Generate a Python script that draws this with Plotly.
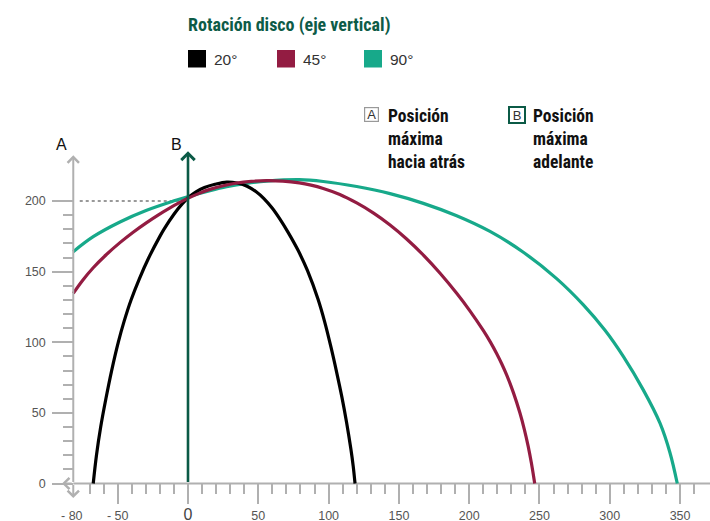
import plotly.graph_objects as go

W, H = 710, 521

# ---- data ----
series_names = ["20°", "45°", "90°"]
series_colors = ["#000000", "#931c42", "#17a98a"]

x_20 = [-67.4, -65.1, -62.1, -58.4, -54.3, -49.6, -45.4, -40.5, -34.6, -28.0, -19.9, -16.8,
        -10.0, -4.0, 0.5, 5.7, 11.7, 19.2, 27.5, 35.0, 42.0, 48.5, 54.0, 60.0, 65.4, 71.0,
        78.2, 85.0, 92.5, 97.3, 101.7, 105.7, 109.5, 112.8, 115.9, 117.5, 118.8]
y_20 = [0, 20, 40, 60, 80, 100, 115, 130, 145, 159.7, 175.2, 180.5,
        190.7, 198.2, 202.7, 206.6, 209.6, 211.9, 213.5, 212.8, 210.5, 206.6, 201.8, 194.9, 187.2, 178.2,
        165.3, 150.7, 130.4, 114.1, 96.5, 78.9, 61.0, 43.2, 24.0, 12.3, 0]

x_45 = [-81.6, -75.0, -67.4, -58.0, -48.4, -39.0, -29.4, -21.0, -12.8, -6.5, -0.2, 7.5,
        15.6, 25.0, 34.6, 45.0, 56.0, 67.5, 79.2, 87.5, 96.2, 108.0, 120.0, 132.0, 143.7,
        155.5, 167.4, 179.3, 191.1, 200.5, 210.0, 215.0, 219.6, 223.2, 226.7, 231.5, 236.1,
        239.2, 242.0, 244.3, 246.6]
y_45 = [134.7, 143.8, 152.8, 162.2, 170.6, 178.0, 184.8, 190.3, 195.2, 198.7, 201.9, 205.3,
        208.3, 210.9, 212.8, 214.0, 214.55, 214.2, 212.9, 211.3, 208.95, 204.7, 198.7, 191.5, 183.1,
        173.2, 161.8, 148.9, 134.7, 122.3, 108.4, 100.3, 91.9, 84.6, 76.7, 64.2, 49.9,
        38.4, 26.1, 14.1, 0]

x_90 = [-81.6, -67.4, -48.4, -29.4, -10.5, -0.2, 15.6, 27.5, 41.5, 56.0, 79.2, 96.2,
        120.0, 143.7, 167.4, 191.1, 214.8, 238.5, 262.2, 281.2, 296.6, 309.6, 323.8, 335.7,
        342.8, 348.0]
y_90 = [164.2, 174.8, 185.2, 193.5, 200.0, 203.1, 207.4, 210.2, 212.6, 214.2, 215.2, 213.9,
        210.3, 205.3, 198.4, 189.6, 178.5, 163.8, 145.1, 126.5, 108.5, 90.0, 66.3, 42.7,
        21.8, 0]

x_major = [-50, 0, 50, 100, 150, 200, 250, 300, 350]
x_major_text = ["- 50", "<span style='font-size:16px;color:#444'>0</span>", "50", "100",
                "150", "200", "250", "300", "350"]
x_minor = [v for v in range(-70, 361, 10) if v % 50 != 0]
y_major = [0, 50, 100, 150, 200]
y_major_text = ["0", "50", "100", "150", "200"]
y_minor = [v for v in range(10, 200, 10) if v % 50 != 0]

title_text = "Rotación disco (eje vertical)"
note_a = "Posición<br>máxima<br>hacia atrás"
note_b = "Posición<br>máxima<br>adelante"

# ---- scales ----
X_RANGE = [-133.71, 371.27]
Y_RANGE = [-26.56, 342.42]
Y_AXIS_X = -81.6

def px(x):  # pixel -> paper
    return x / W

def py(y):
    return 1 - y / H

NARROW = "Liberation Sans Narrow, Roboto Condensed, Arial Narrow, Liberation Sans, sans-serif"
SANS = "Liberation Sans, Arial, Helvetica, sans-serif"
GREY = "#b0b0b0"
DKGREEN = "#0b5a46"

fig = go.Figure()
for xs, ys, c in [(x_90, y_90, series_colors[2]), (x_20, y_20, series_colors[0]),
                  (x_45, y_45, series_colors[1])]:
    fig.add_trace(go.Scatter(x=xs, y=ys, mode="lines",
                             line=dict(color=c, width=3.2, shape="spline", smoothing=1.0),
                             hoverinfo="skip", showlegend=False))

xpos = (0 - Y_RANGE[0]) / (Y_RANGE[1] - Y_RANGE[0])
ypos = (Y_AXIS_X - X_RANGE[0]) / (X_RANGE[1] - X_RANGE[0])

fig.update_layout(
    width=W, height=H, margin=dict(l=0, r=0, t=0, b=0),
    paper_bgcolor="white", plot_bgcolor="white", showlegend=False,
    font=dict(family=SANS, color="#555", size=12.5),
    xaxis=dict(range=X_RANGE, domain=[0, 1], anchor="free", position=xpos,
               showgrid=False, zeroline=False, showline=False, automargin=False,
               tickmode="array", tickvals=x_major, ticktext=x_major_text,
               ticks="outside", ticklen=20, tickwidth=1.6, tickcolor=GREY,
               tickfont=dict(size=12.5, color="#555"), ticklabelstandoff=1,
               minor=dict(tickmode="array", tickvals=x_minor, ticks="outside",
                          ticklen=10, tickwidth=1.6, tickcolor=GREY),
               fixedrange=True),
    yaxis=dict(range=Y_RANGE, domain=[0, 1], anchor="free", position=ypos,
               showgrid=False, zeroline=False, showline=False, automargin=False,
               tickmode="array", tickvals=y_major, ticktext=y_major_text,
               ticks="outside", ticklen=21, tickwidth=1.6, tickcolor=GREY,
               tickfont=dict(size=12.5, color="#555"), ticklabelstandoff=4,
               minor=dict(tickmode="array", tickvals=y_minor, ticks="outside",
                          ticklen=10, tickwidth=1.6, tickcolor=GREY),
               fixedrange=True),
)

shapes = []
shapes.append(dict(type="line", xref="x", yref="y", x0=Y_AXIS_X, x1=X_RANGE[1], y0=0, y1=0,
                   line=dict(color=GREY, width=2), layer="below"))
shapes.append(dict(type="line", xref="x", yref="y", x0=-77, x1=-2, y0=200, y1=200,
                   line=dict(color="#999", width=2, dash="dot"), layer="below"))

annotations = []
for (hx, hy) in [(Y_AXIS_X, 232.4), (Y_AXIS_X, -10.3), (-89.6, 0)]:
    annotations.append(dict(x=hx, y=hy, ax=Y_AXIS_X, ay=0, xref="x", yref="y",
                            axref="x", ayref="y", showarrow=True, arrowhead=4,
                            arrowsize=1.1, arrowwidth=2, arrowcolor=GREY, text=""))
annotations.append(dict(x=0, y=235.3, ax=0, ay=0, xref="x", yref="y", axref="x", ayref="y",
                        showarrow=True, arrowhead=4, arrowsize=1.0, arrowwidth=2.6,
                        arrowcolor=DKGREEN, text=""))
annotations.append(dict(x=px(61), y=py(145), xref="paper", yref="paper", text="A",
                        showarrow=False, xanchor="center", yanchor="middle",
                        font=dict(family=SANS, size=16, color="#111")))
annotations.append(dict(x=px(176), y=py(145), xref="paper", yref="paper", text="B",
                        showarrow=False, xanchor="center", yanchor="middle",
                        font=dict(family=SANS, size=16, color="#111")))
annotations.append(dict(x=px(72), y=py(516), xref="paper", yref="paper", text="- 80",
                        showarrow=False, xanchor="center", yanchor="middle",
                        font=dict(family=SANS, size=12.5, color="#555")))

annotations.append(dict(x=px(186), y=py(25), xref="paper", yref="paper", text=f"<b>{title_text}</b>",
                        showarrow=False, xanchor="left", yanchor="middle",
                        font=dict(family=NARROW, size=18, color="#0d5b47")))
leg_x = [188, 277, 364]
for name, col, lx in zip(series_names, series_colors, leg_x):
    shapes.append(dict(type="rect", xref="paper", yref="paper", x0=px(lx), x1=px(lx + 18),
                       y0=py(67.5), y1=py(50), fillcolor=col, line=dict(width=0)))
    annotations.append(dict(x=px(lx + 24), y=py(59.5), xref="paper", yref="paper", text=name,
                            showarrow=False, xanchor="left", yanchor="middle",
                            font=dict(family=SANS, size=15.5, color="#333")))

annotations.append(dict(x=px(371.5), y=py(114.5), xref="paper", yref="paper", text="A",
                        showarrow=False, xanchor="center", yanchor="middle", width=13, height=13,
                        bordercolor="#999", borderwidth=1.2, borderpad=0,
                        font=dict(family=SANS, size=13, color="#333")))
annotations.append(dict(x=px(517), y=py(114.5), xref="paper", yref="paper", text="B",
                        showarrow=False, xanchor="center", yanchor="middle", width=14, height=14,
                        bordercolor=DKGREEN, borderwidth=2, borderpad=0,
                        font=dict(family=SANS, size=13, color="#333")))
annotations.append(dict(x=px(386), y=py(104), xref="paper", yref="paper", text=f"<b>{note_a}</b>",
                        showarrow=False, xanchor="left", yanchor="top", align="left",
                        font=dict(family=NARROW, size=17.5, color="#111")))
annotations.append(dict(x=px(531), y=py(104), xref="paper", yref="paper", text=f"<b>{note_b}</b>",
                        showarrow=False, xanchor="left", yanchor="top", align="left",
                        font=dict(family=NARROW, size=17.5, color="#111")))

fig.update_layout(shapes=shapes, annotations=annotations)
fig.write_html("out.html", config={"displayModeBar": False},
               post_script="document.body.style.margin='0';document.body.style.overflow='hidden';")
